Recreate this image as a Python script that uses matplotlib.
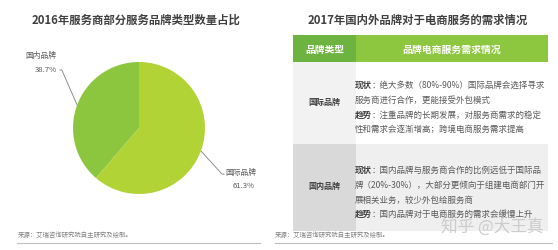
import numpy as np
import matplotlib
matplotlib.use("Agg")
import matplotlib.pyplot as plt
from matplotlib.patches import Rectangle

plt.rcParams['font.family'] = ['Noto Sans CJK SC', 'DejaVu Sans']

# ---------------- data ----------------
left_title = "2016年服务商部分服务品牌类型数量占比"
right_title = "2017年国内外品牌对于电商服务的需求情况"
pie_labels = ["国内品牌", "国际品牌"]
pie_values = [38.7, 61.3]
pie_colors = ["#8cc63e", "#b1d335"]
source_text = "来源：艾瑞咨询研究院自主研究及绘制。"

table_header = ["品牌类型", "品牌电商服务需求情况"]
row_names = ["国际品牌", "国内品牌"]
row_lines = [
    [("现状", "：绝大多数（80%-90%）国际品牌会选择寻求"),
     ("", "服务商进行合作，更能接受外包模式"),
     ("趋势", "：注重品牌的长期发展，对服务商需求的稳定"),
     ("", "性和需求会逐渐增高；跨境电商服务需求提高")],
    [("现状", "：国内品牌与服务商合作的比例远低于国际品"),
     ("", "牌（20%-30%），大部分更倾向于组建电商部门开"),
     ("", "展相关业务，较少外包给服务商"),
     ("趋势", "：国内品牌对于电商服务的需求会缓慢上升")],
]
watermark = "知乎 @大王真"

W, H = 558, 251
fig = plt.figure(figsize=(W / 100, H / 100), dpi=100)
fig.patch.set_facecolor("white")

bg = fig.add_axes([0, 0, 1, 1])
bg.set_xlim(0, W)
bg.set_ylim(H, 0)
bg.axis("off")

# ---------------- left panel ----------------
bg.text(136, 20, left_title, ha="center", va="center", fontsize=8.2,
        fontweight="bold", color="#404040")

cx, cy, r = 139, 129, 66
pax = fig.add_axes([(cx - r) / W, 1 - (cy + r) / H, 2 * r / W, 2 * r / H])
wedges, _ = pax.pie(pie_values, colors=pie_colors, startangle=90,
                    counterclock=True, radius=1,
                    wedgeprops=dict(linewidth=0))
pax.set_xlim(-1, 1)
pax.set_ylim(-1, 1)
pax.set_aspect("equal")
pax.axis("off")


def to_px(x, y):
    return cx + x * r, cy - y * r


# leader lines and labels
elbows = [(-1.17, 0.88, -0.03), (1.26, -0.70, 0.03)]
label_pos = [((-1.48, 1.11), (-1.41, 0.89)), ((1.55, -0.66), (1.58, -0.87))]
for w, lab, val, (ex, ey, hx), (lp, vp) in zip(wedges, pie_labels, pie_values,
                                                elbows, label_pos):
    ang = np.deg2rad((w.theta1 + w.theta2) / 2)
    sx, sy = np.cos(ang), np.sin(ang)
    p0 = to_px(sx, sy)
    p1 = to_px(ex, ey)
    p2 = to_px(ex + hx, ey)
    bg.plot([p0[0], p1[0], p2[0]], [p0[1], p1[1], p2[1]], color="#7f7f7f",
            lw=0.6)
    lx, ly = to_px(*lp)
    bg.text(lx, ly, lab, ha="center", va="center", fontsize=5.6,
            color="#595959")
    vx, vy = to_px(*vp)
    bg.text(vx, vy, f"{val}%", ha="center", va="center", fontsize=5.6,
            color="#595959")

bg.text(18, 235, source_text, ha="left", va="center", fontsize=4.6,
        color="#808080")
bg.plot([17, 260], [244, 244], color="#bfbfbf", lw=0.8)

# ---------------- right panel ----------------
bg.text(418, 20, right_title, ha="center", va="center", fontsize=8.2,
        fontweight="bold", color="#404040")

x0, xm, x1 = 293, 356, 548
y_head0, y_head1 = 36, 63
row_bounds = [(63, 145), (145, 232)]
left_fill = ["#f2f2f2", "#d9d9d9"]
right_fill = ["#ffffff", "#efefef"]

bg.add_patch(Rectangle((x0, y_head0), xm - x0, y_head1 - y_head0,
                       facecolor="#6db33f", edgecolor="none"))
bg.add_patch(Rectangle((xm, y_head0), x1 - xm, y_head1 - y_head0,
                       facecolor="#8dc63f", edgecolor="none"))
bg.text((x0 + xm) / 2, (y_head0 + y_head1) / 2, table_header[0], ha="center",
        va="center", fontsize=7, fontweight="bold", color="white")
bg.text((xm + x1) / 2, (y_head0 + y_head1) / 2, table_header[1], ha="center",
        va="center", fontsize=7.1, fontweight="bold", color="white")

line_y = [[85, 100, 115, 129], [170, 185, 200, 214]]
for i, ((ya, yb), name, lines) in enumerate(zip(row_bounds, row_names,
                                                row_lines)):
    bg.add_patch(Rectangle((x0, ya), xm - x0, yb - ya, facecolor=left_fill[i],
                           edgecolor="none"))
    bg.add_patch(Rectangle((xm, ya), x1 - xm, yb - ya, facecolor=right_fill[i],
                           edgecolor="none"))
    bg.text((x0 + xm) / 2, (ya + yb) / 2 - 2, name, ha="center", va="center",
            fontsize=5.8, fontweight="bold", color="#404040")
    for (bold, rest), yy in zip(lines, line_y[i]):
        tx = 355
        if bold:
            t = bg.text(tx, yy, bold, ha="left", va="center", fontsize=6.1,
                        fontweight="bold", color="#404040")
            fig.canvas.draw()
            bb = t.get_window_extent()
            tx = tx + bb.width
        bg.text(tx, yy, rest, ha="left", va="center", fontsize=6.1,
                color="#595959")

bg.text(492, 227, watermark, ha="center", va="center", fontsize=12,
        color="#c8c8c8", alpha=0.9)

bg.text(275, 235, source_text, ha="left", va="center", fontsize=4.6,
        color="#808080")
bg.plot([275, 552], [244, 244], color="#bfbfbf", lw=0.8)

fig.savefig("out.png", dpi=100, facecolor="white")
